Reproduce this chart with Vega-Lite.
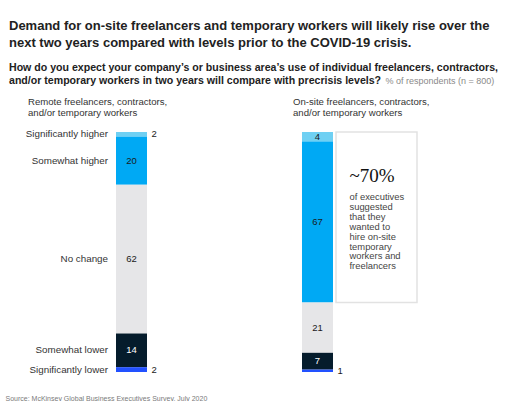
{
  "$schema": "https://vega.github.io/schema/vega-lite/v6.json",
  "width": 490,
  "height": 240,
  "padding": {"left": 5, "top": 20, "right": 0, "bottom": 0},
  "background": "white",
  "config": {
    "view": {"stroke": null},
    "font": "Liberation Sans",
    "axisY": {
      "labels": false,
      "ticks": false,
      "domain": false,
      "grid": false,
      "titleAngle": 0,
      "titleX": -4,
      "titleY": 266,
      "titleAlign": "left",
      "titleBaseline": "middle",
      "titleFont": "Liberation Sans",
      "titleFontSize": 7,
      "titleFontWeight": "normal",
      "titleColor": "#7a7a7a"
    }
  },
  "title": {
    "text": ["Demand for on-site freelancers and temporary workers will likely rise over the", "next two years compared with levels prior to the COVID-19 crisis."],
    "subtitle": ["How do you expect your company’s or business area’s use of individual freelancers, contractors,", "and/or temporary workers in two years will compare with precrisis levels?"],
    "anchor": "start",
    "frame": "group",
    "font": "Liberation Sans",
    "fontSize": 13,
    "fontWeight": "bold",
    "color": "#222222",
    "lineHeight": 17,
    "subtitleFont": "Liberation Sans",
    "subtitleFontSize": 10.6,
    "subtitleFontWeight": "bold",
    "subtitleColor": "#222222",
    "subtitleLineHeight": 13,
    "subtitlePadding": 13,
    "offset": -11
  },
  "data": {"values": [
    {"panel": "Remote", "answer": "Significantly higher", "value": 2, "rank": 5},
    {"panel": "Remote", "answer": "Somewhat higher", "value": 20, "rank": 4},
    {"panel": "Remote", "answer": "No change", "value": 62, "rank": 3},
    {"panel": "Remote", "answer": "Somewhat lower", "value": 14, "rank": 2},
    {"panel": "Remote", "answer": "Significantly lower", "value": 2, "rank": 1},
    {"panel": "On-site", "answer": "Significantly higher", "value": 4, "rank": 5},
    {"panel": "On-site", "answer": "Somewhat higher", "value": 67, "rank": 4},
    {"panel": "On-site", "answer": "No change", "value": 21, "rank": 3},
    {"panel": "On-site", "answer": "Somewhat lower", "value": 7, "rank": 2},
    {"panel": "On-site", "answer": "Significantly lower", "value": 1, "rank": 1}
  ]},
  "transform": [
    {"stack": "value", "groupby": ["panel"], "sort": [{"field": "rank", "order": "ascending"}], "as": ["y0", "y1"]}
  ],
  "encoding": {
    "x": {
      "field": "panel",
      "type": "nominal",
      "scale": {"type": "band", "domain": ["Remote", "On-site"], "range": [107, 324], "paddingInner": 0.8333, "paddingOuter": 0},
      "axis": {
        "orient": "top",
        "title": "% of respondents (n = 800)",
        "titleX": 376,
        "titleY": -52,
        "titleAlign": "left",
        "titleBaseline": "middle",
        "titleFont": "Liberation Sans",
        "titleFontSize": 9,
        "titleFontWeight": "normal",
        "titleColor": "#8a8a8a",
        "domain": false,
        "ticks": false,
        "grid": false,
        "labelAngle": 0,
        "labelPadding": 26,
        "labelAlign": "left",
        "labelBaseline": "bottom",
        "labelOffset": {"condition": {"test": "datum.value === 'Remote'", "value": -103.5}, "value": -24.5},
        "labelExpr": "datum.value === 'Remote' ? ['Remote freelancers, contractors,', 'and/or temporary workers'] : ['On-site freelancers, contractors,', 'and/or temporary workers']",
        "labelFont": "Liberation Sans",
        "labelFontSize": 9.6,
        "labelLineHeight": 11,
        "labelColor": "#333333",
        "labelLimit": 0
      }
    }
  },
  "layer": [
    {
      "mark": {"type": "bar"},
      "encoding": {
        "y": {
          "field": "y0",
          "type": "quantitative",
          "scale": {"domain": [0, 100], "nice": false},
          "title": "Source: McKinsey Global Business Executives Survey, July 2020"
        },
        "y2": {"field": "y1"},
        "color": {
          "field": "answer",
          "type": "nominal",
          "scale": {
            "domain": ["Significantly higher", "Somewhat higher", "No change", "Somewhat lower", "Significantly lower"],
            "range": ["#6fd0f3", "#00a9f4", "#e6e6e8", "#051c2c", "#2251ff"]
          },
          "legend": null
        }
      }
    },
    {
      "transform": [
        {"filter": {"field": "panel", "equal": "On-site"}},
        {"filter": {"field": "rank", "gte": 4}},
        {"aggregate": [{"op": "min", "field": "y0", "as": "lo"}, {"op": "max", "field": "y1", "as": "hi"}], "groupby": ["panel"]}
      ],
      "layer": [
        {
          "mark": {"type": "bar", "width": 81, "xOffset": 59, "fill": "white", "stroke": "#e2e2e2", "strokeWidth": 1.5},
          "encoding": {
            "y": {"field": "hi", "type": "quantitative", "scale": {"domain": [0, 100], "nice": false}, "title": "Source: McKinsey Global Business Executives Survey, July 2020"},
            "y2": {"field": "lo"}
          }
        },
        {
          "mark": {"type": "text", "align": "left", "baseline": "middle", "dx": 32, "dy": 44, "font": "Liberation Serif", "fontSize": 19, "color": "#111111"},
          "encoding": {
            "y": {"field": "hi", "type": "quantitative", "scale": {"domain": [0, 100], "nice": false}, "title": "Source: McKinsey Global Business Executives Survey, July 2020"},
            "text": {"value": "~70%"}
          }
        },
        {
          "mark": {"type": "text", "align": "left", "baseline": "top", "dx": 32, "dy": 61, "fontSize": 9.4, "lineHeight": 9.9, "color": "#444444"},
          "encoding": {
            "y": {"field": "hi", "type": "quantitative", "scale": {"domain": [0, 100], "nice": false}, "title": "Source: McKinsey Global Business Executives Survey, July 2020"},
            "text": {"value": ["of executives", "suggested", "that they", "wanted to", "hire on-site", "temporary", "workers and", "freelancers"]}
          }
        }
      ]
    },
    {
      "transform": [
        {"fold": ["y0", "y1"], "as": ["k", "v"]},
        {"aggregate": [{"op": "mean", "field": "v", "as": "mid"}], "groupby": ["panel", "answer", "value", "rank"]}
      ],
      "layer": [
        {
          "transform": [{"filter": {"field": "value", "gte": 4}}],
          "mark": {"type": "text", "align": "center", "baseline": "middle", "fontSize": 9.5},
          "encoding": {
            "y": {"field": "mid", "type": "quantitative", "scale": {"domain": [0, 100], "nice": false}, "title": "Source: McKinsey Global Business Executives Survey, July 2020"},
            "text": {"field": "value", "type": "quantitative"},
            "color": {"condition": {"test": "datum.answer === 'Somewhat lower'", "value": "#ffffff"}, "value": "#1a1a1a"}
          }
        },
        {
          "transform": [{"filter": {"field": "value", "lt": 4}}],
          "mark": {"type": "text", "align": "left", "baseline": "middle", "dx": 20, "fontSize": 9.5, "color": "#1a1a1a"},
          "encoding": {
            "y": {"field": "mid", "type": "quantitative", "scale": {"domain": [0, 100], "nice": false}, "title": "Source: McKinsey Global Business Executives Survey, July 2020"},
            "text": {"field": "value", "type": "quantitative"}
          }
        },
        {
          "transform": [{"filter": {"field": "panel", "equal": "Remote"}}],
          "mark": {"type": "text", "align": "right", "baseline": "middle", "dx": -23.5, "fontSize": 9.8, "color": "#333333"},
          "encoding": {
            "y": {"field": "mid", "type": "quantitative", "scale": {"domain": [0, 100], "nice": false}, "title": "Source: McKinsey Global Business Executives Survey, July 2020"},
            "text": {"field": "answer", "type": "nominal"}
          }
        }
      ]
    }
  ]
}
